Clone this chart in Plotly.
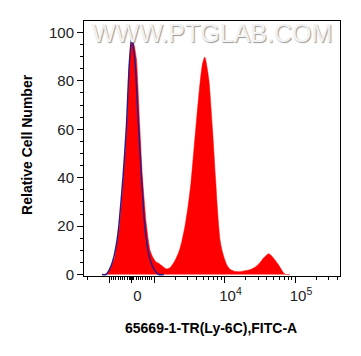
import numpy as np
import plotly.graph_objects as go

# Histogram of stained sample (display channel, relative count)
red_x = [18, 20, 22, 24, 26, 28, 30.7, 33, 35.7, 39.5, 43, 45.7, 48, 50, 52.4, 55.7, 58.5, 62.4, 66, 69,
         72, 75, 78, 82.4, 86, 91, 95, 98, 101, 104, 107, 110, 113, 116, 118.5, 120.7, 122, 125,
         128.5, 131.5, 133.3, 134.7, 136, 138, 140.7, 143, 146, 150, 155, 160, 166, 171, 175.7, 180,
         184.5, 187, 191, 194.5, 197.5, 200, 202, 206]
red_y = [0, 0, 0.3, 1, 2.2, 4, 7, 13, 20.6, 40, 61.7, 89, 97.6, 95, 89, 61.7, 40, 20.6, 10, 7,
         5.2, 4.6, 3.6, 2.3, 2.8, 5.8, 9.5, 14, 20, 28, 38, 52, 66, 79, 87, 89.8, 88, 80,
         60, 40, 28, 20, 14.4, 10, 6.2, 3.8, 2.2, 1.4, 1.2, 1.5, 2, 3, 4.8, 7,
         8.6, 8, 6, 4, 2, 0.5, 0, 0]

# Histogram of control sample
blue_x = [18, 22, 24, 27, 30, 33, 35, 39, 42.5, 45, 47.5, 49, 51.5, 54.5, 57.5, 60.7, 64, 67, 69, 72, 75, 80]
blue_y = [0, 0, 1, 3.5, 7.5, 14, 20.6, 40, 61.7, 85, 97.8, 95, 85, 61.7, 40, 20.6, 10, 5, 3, 1, 0, 0]

def disp(v):
    # biexponential-like display scale (channels)
    if abs(v) <= 1000:
        return 47.5 + 22.5 * v / 1000
    if v > 0:
        return 70 + 70.5 * np.log10(v / 1000)
    return 25 - 70.5 * np.log10(-v / 1000)

major_vals = [-1000, 0, 1000, 1e4, 1e5]
major_text = ["", "0", "", "10<sup>4</sup>", "10<sup>5</sup>"]
minor_vals = ([-2000] + list(range(-900, 1000, 100)) + list(range(-60, 61, 15)) +
              [k * 1000 for k in range(2, 10)] + [k * 10000 for k in range(2, 10)] +
              [k * 100000 for k in range(2, 5)])

fig = go.Figure()
fig.add_trace(go.Scatter(x=red_x, y=red_y, mode="lines", line=dict(color="#ff0000", width=0.5, shape="spline", smoothing=0.6),
                         fill="tozeroy", fillcolor="#ff0000", showlegend=False, hoverinfo="skip"))
fig.add_trace(go.Scatter(x=blue_x, y=blue_y, mode="lines", line=dict(color="#2a1d8a", width=1.5, shape="spline", smoothing=0.6),
                         showlegend=False, hoverinfo="skip"))
fig.add_trace(go.Scatter(x=[None], y=[None], xaxis="x2", showlegend=False, hoverinfo="skip"))

xr = [0, 256]
fig.update_layout(
    width=361, height=356,
    margin=dict(l=84, r=21, t=21, b=80),
    plot_bgcolor="white", paper_bgcolor="white",
    font=dict(family="Liberation Sans, Arial", color="#222"),
    xaxis=dict(range=xr, tickvals=[disp(v) for v in major_vals], ticktext=major_text,
               ticks="outside", ticklen=6, tickcolor="black", tickwidth=1.2,
               showline=True, linecolor="black", linewidth=1, mirror=True,
               showgrid=False, zeroline=False, tickfont=dict(size=15), ticklabelshift=6),
    xaxis2=dict(range=xr, overlaying="x", side="bottom", tickvals=[disp(v) for v in minor_vals],
                ticks="outside", ticklen=3, tickcolor="black", tickwidth=1,
                showticklabels=False, showgrid=False, zeroline=False, showline=False),
    yaxis=dict(range=[-0.6, 104.7], tickvals=[0, 20, 40, 60, 80, 100],
               ticks="outside", ticklen=6, tickcolor="black", tickwidth=1.2,
               minor=dict(dtick=5, ticks="outside", ticklen=3, tickcolor="black"),
               showline=True, linecolor="black", linewidth=1, mirror=True,
               showgrid=False, zeroline=False, tickfont=dict(size=15)),
    annotations=[
        dict(text="WWW.PTGLAB.COM", x=0.5, y=0.953, xref="paper", yref="paper", showarrow=False,
             font=dict(size=25, color="#f2f2f2", family="Liberation Sans", shadow="1px 1px 1px #999"),
             xanchor="center", yanchor="middle"),
        dict(text="<b>Relative Cell Number</b>", x=-0.2227, y=0.518, xref="paper", yref="paper",
             showarrow=False, textangle=-90, font=dict(size=14, color="black"), xanchor="center", yanchor="middle"),
        dict(text="<b>65669-1-TR(Ly-6C),FITC-A</b>", x=0.496, y=-0.204, xref="paper", yref="paper",
             showarrow=False, font=dict(size=14, color="black"), xanchor="center", yanchor="middle"),
    ],
)
fig.write_html("out.html")
